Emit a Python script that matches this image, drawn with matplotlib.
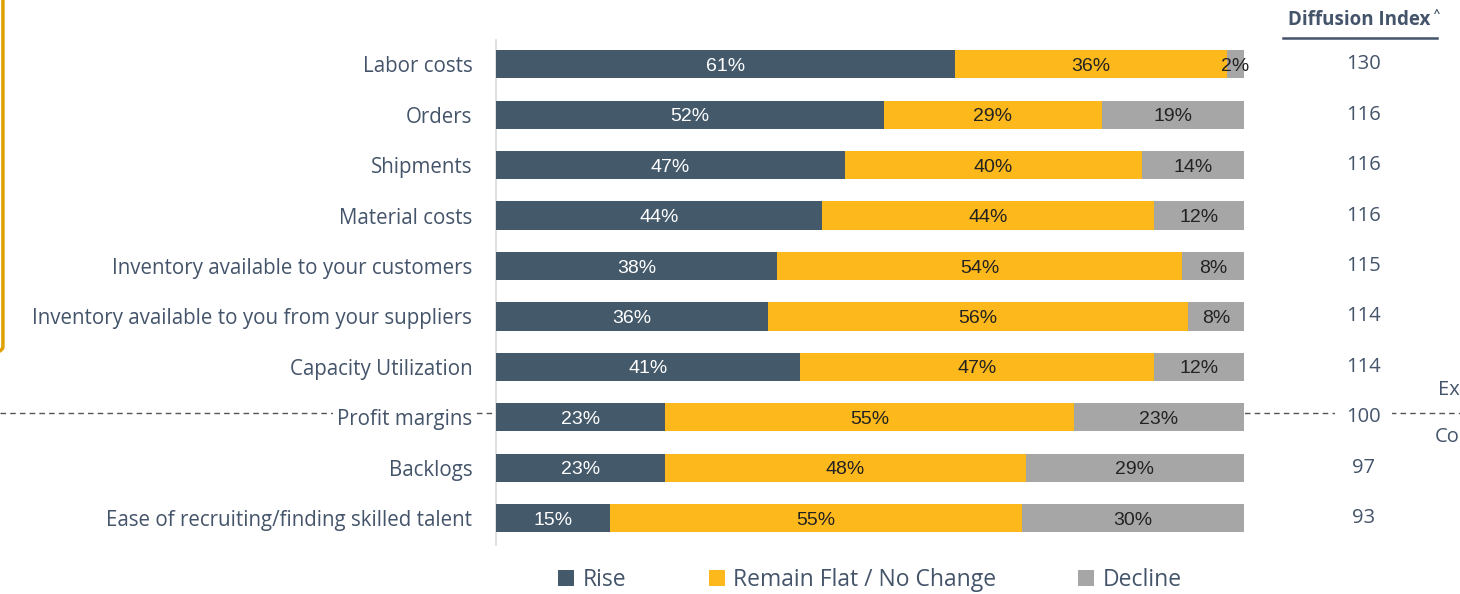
import matplotlib.pyplot as plt
from matplotlib.patches import FancyBboxPatch
from matplotlib.lines import Line2D
from matplotlib.transforms import blended_transform_factory

categories = ["Labor costs", "Orders", "Shipments", "Material costs",
              "Inventory available to your customers",
              "Inventory available to you from your suppliers",
              "Capacity Utilization", "Profit margins", "Backlogs",
              "Ease of recruiting/finding skilled talent"]
rise = [61.4, 51.9, 46.6, 43.6, 37.6, 36.4, 40.6, 22.6, 22.6, 15.2]
flat = [36.3, 29.1, 39.8, 44.4, 54.1, 56.1, 47.4, 54.7, 48.2, 55.1]
decline = [2.3, 19.0, 13.6, 12.0, 8.3, 7.6, 12.0, 22.7, 29.2, 29.7]
diffusion = [130, 116, 116, 116, 115, 114, 114, 100, 97, 93]
series_names = ["Rise", "Remain Flat / No Change", "Decline"]

RISE_C = "#44596a"
FLAT_C = "#fdb81b"
DECL_C = "#a6a6a6"
TEXT_C = "#44546a"
FONT = "Open Sans"

fig = plt.figure(figsize=(14.6, 5.94), dpi=100)
ax = fig.add_axes([0.3397, 0.0825, 0.5123, 0.8502])

ypos = list(range(len(categories)))
h = 0.56
ax.barh(ypos, rise, height=h, color=RISE_C, label=series_names[0], zorder=3)
left2 = rise
ax.barh(ypos, flat, left=left2, height=h, color=FLAT_C, label=series_names[1], zorder=3)
left3 = [r + f for r, f in zip(rise, flat)]
ax.barh(ypos, decline, left=left3, height=h, color=DECL_C, label=series_names[2], zorder=3)

for i in ypos:
    ax.text(rise[i] / 2, i + 0.04, f"{rise[i]:.0f}%", ha="center", va="center",
            color="white", fontsize=14, family="Liberation Sans", zorder=4)
    ax.text(left2[i] + flat[i] / 2, i + 0.04, f"{flat[i]:.0f}%", ha="center", va="center",
            color="#222222", fontsize=14, family="Liberation Sans", zorder=4)
    ax.text(left3[i] + decline[i] / 2, i + 0.04, f"{decline[i]:.0f}%", ha="center", va="center",
            color="#222222", fontsize=14, family="Liberation Sans", zorder=4)

ax.set_xlim(0, 100)
ax.set_ylim(9.53, -0.48)
ax.set_yticks(ypos)
ax.set_yticklabels(categories, fontsize=14.8, color=TEXT_C, family=FONT)
ax.tick_params(axis="y", length=0, pad=17)
ax.set_xticks([])
for s in ["top", "right", "bottom"]:
    ax.spines[s].set_visible(False)
ax.spines["left"].set_color("#d9d9d9")
ax.spines["left"].set_linewidth(1.2)

# white background behind the profit margins label so the dashed line breaks
ax.get_yticklabels()[7].set_bbox(dict(facecolor="white", edgecolor="none", pad=3))

# diffusion index column
trans = blended_transform_factory(fig.transFigure, ax.transData)
for i, d in enumerate(diffusion):
    ax.text(0.934, i, str(d), transform=trans, ha="center", va="center",
            fontsize=14.5, color=TEXT_C, family=FONT,
            bbox=dict(facecolor="white", edgecolor="none", pad=8))
fig.text(0.931, 0.966, "Diffusion Index", ha="center", va="center",
         fontsize=13.5, fontweight="bold", color=TEXT_C, family=FONT)
fig.text(0.9825, 0.976, "^", ha="left", va="center", fontsize=8,
         fontweight="bold", color=TEXT_C, family=FONT)
fig.add_artist(Line2D([0.879, 0.984], [0.936, 0.936], color=TEXT_C, lw=1.8))

# expansion / contraction line at 100
ax.add_line(Line2D([0, 1], [6.92, 6.92], transform=trans, color="#555555",
                   lw=1, ls=(0, (4, 3)), zorder=1, clip_on=False))
ax.text(0.9995, 6.45, "Ex", transform=trans, ha="right", va="center",
        fontsize=14.5, color=TEXT_C, family=FONT)
ax.text(0.9995, 7.38, "Co", transform=trans, ha="right", va="center",
        fontsize=14.5, color=TEXT_C, family=FONT)

# partially visible callout box on the left edge
fig.add_artist(FancyBboxPatch((-0.3, 0.405), 0.302, 0.7,
                              boxstyle="round,pad=0,rounding_size=0.012",
                              transform=fig.transFigure, facecolor="none",
                              edgecolor="#e0a100", lw=2.5))

leg = ax.legend(loc="center", bbox_to_anchor=(0.5, -0.07), ncol=3, frameon=False,
                handlelength=0.7, handleheight=0.7, handletextpad=0.35,
                columnspacing=3.6, prop={"family": FONT, "size": 16.5})
for t in leg.get_texts():
    t.set_color(TEXT_C)

fig.savefig("out.png", dpi=100)
